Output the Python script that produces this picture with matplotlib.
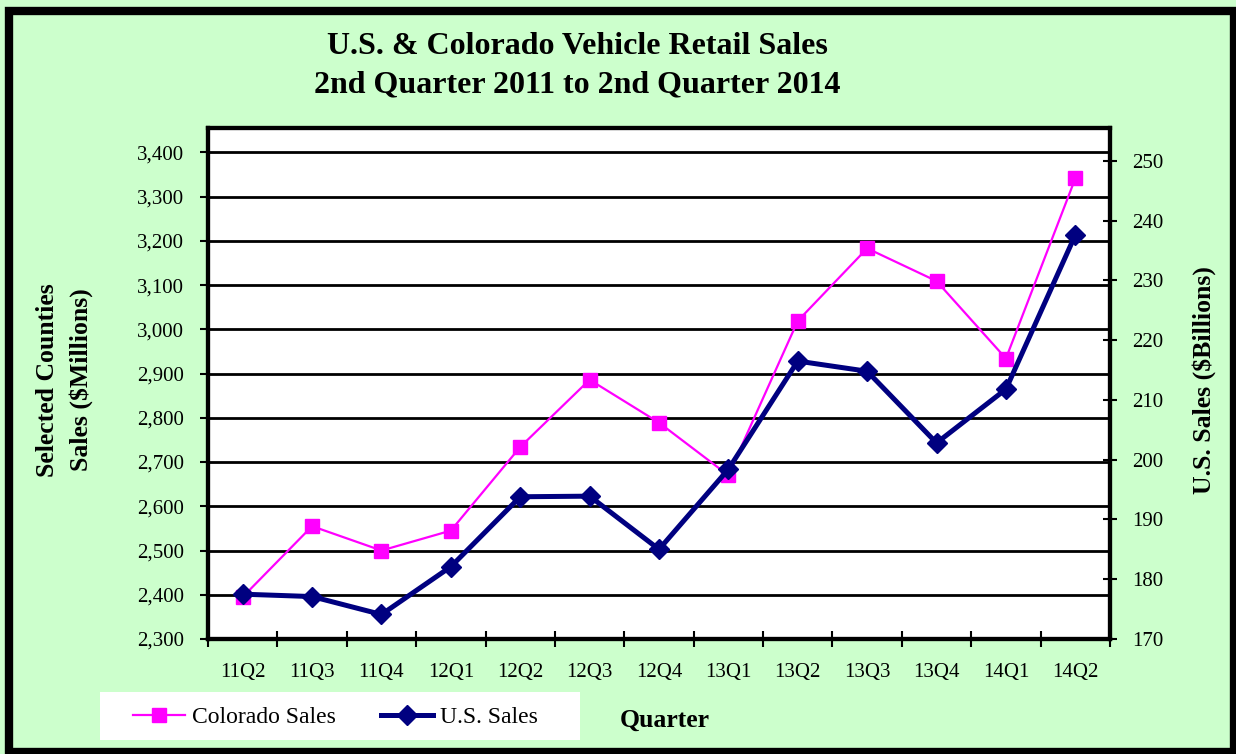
import numpy as np
import matplotlib
matplotlib.use("Agg")
import matplotlib.pyplot as plt
from matplotlib.patches import Rectangle
from matplotlib.lines import Line2D

# ==========================================
# DATA
# ==========================================
quarters = ["11Q2", "11Q3", "11Q4", "12Q1", "12Q2", "12Q3", "12Q4",
            "13Q1", "13Q2", "13Q3", "13Q4", "14Q1", "14Q2"]
colorado_sales = [2395, 2555, 2500, 2545, 2734, 2886, 2789,
                  2670, 3019, 3183, 3109, 2934, 3341]
us_sales = [177.5, 177.1, 174.1, 182.1, 193.8, 193.9, 185.0,
            198.4, 216.5, 214.8, 202.8, 211.8, 237.6]
left_ticks = list(range(2300, 3401, 100))
right_ticks = list(range(170, 251, 10))

BG_GREEN = "#CCFFCC"
MAGENTA = "#FF00FF"
NAVY = "#000080"

plt.rcParams.update({
    "font.family": ["Liberation Serif", "DejaVu Serif"],
    "text.color": "black",
})

W, H = 1236, 754
fig = plt.figure(figsize=(W / 100, H / 100), dpi=100)
fig.patch.set_facecolor(BG_GREEN)

ax = fig.add_axes([208 / W, (H - 639) / H, 902 / W, (639 - 128) / H])
ax.set_facecolor("white")
ax2 = ax.twinx()

x = np.arange(len(quarters))

# gridlines from left axis
for v in left_ticks[1:]:
    ax.axhline(v, color="black", lw=2, zorder=1)

ax.plot(x, colorado_sales, color=MAGENTA, lw=1.6, marker="s", markersize=10.5,
        markerfacecolor=MAGENTA, markeredgecolor=MAGENTA, zorder=3, clip_on=False)
ax2.plot(x, us_sales, color=NAVY, lw=3.6, marker="D", markersize=10,
         markerfacecolor=NAVY, markeredgecolor=NAVY, zorder=4, clip_on=False)

ax.set_xlim(-0.5, len(quarters) - 0.5)
ax.set_ylim(2300, 3455)
ax2.set_ylim(170, 255.5)

ax.set_yticks(left_ticks)
ax.set_yticklabels([f"{v:,}" for v in left_ticks])
ax2.set_yticks(right_ticks)
ax2.set_yticklabels([str(v) for v in right_ticks])

# category boundaries get the tick marks, labels sit in the middle
ax.set_xticks(np.arange(-0.5, len(quarters)), minor=False)
ax.set_xticklabels([])
ax.set_xticks(x, minor=True)
ax.set_xticklabels(quarters, minor=True)

ax.tick_params(axis="x", which="major", direction="inout", length=12, width=1.5)
ax.tick_params(axis="x", which="minor", length=0, pad=17.5, labelsize=15)
ax.tick_params(axis="y", direction="out", length=6, width=1.5, pad=11, labelsize=15)
ax2.tick_params(axis="y", direction="inout", length=10, width=1.5, pad=11, labelsize=15)

for a in (ax, ax2):
    for sp in a.spines.values():
        sp.set_linewidth(3)
        sp.set_color("black")

ax2.patch.set_visible(False)
ax2.set_zorder(2)
ax.set_zorder(1)

# titles and labels
fig.text(577 / W, (H - 47) / H, "U.S. & Colorado Vehicle Retail Sales",
         ha="center", va="center", fontsize=23, fontweight="bold")
fig.text(577 / W, (H - 85) / H, "2nd Quarter 2011 to 2nd Quarter 2014",
         ha="center", va="center", fontsize=23, fontweight="bold")

fig.text(48 / W, (H - 380) / H, "Selected Counties", rotation=90,
         ha="center", va="center", fontsize=18.5, fontweight="bold")
fig.text(81 / W, (H - 380) / H, "Sales ($Millions)", rotation=90,
         ha="center", va="center", fontsize=18.5, fontweight="bold")
fig.text(1204 / W, (H - 380) / H, "U.S. Sales ($Billions)", rotation=90,
         ha="center", va="center", fontsize=18.5, fontweight="bold")
fig.text(665 / W, (H - 720) / H, "Quarter", ha="center", va="center",
         fontsize=18.5, fontweight="bold")

# legend box
fig.patches.append(Rectangle((100 / W, (H - 740) / H), 480 / W, 48 / H,
                             transform=fig.transFigure, facecolor="white",
                             edgecolor="none", zorder=0))
handles = [
    Line2D([], [], color=MAGENTA, lw=1.6, marker="s", markersize=10.5),
    Line2D([], [], color=NAVY, lw=3.6, marker="D", markersize=10),
]
fig.legend(handles, ["Colorado Sales", "U.S. Sales"], loc="center left",
           bbox_to_anchor=(133 / W, (H - 717) / H), ncol=2, frameon=False,
           fontsize=17, handlelength=2.2, handletextpad=0.3,
           columnspacing=1.9, borderpad=0, borderaxespad=0)

# outer black frame
fig.patches.append(Rectangle((9 / W, 2 / H), (1234 - 9) / W, (743 - 2) / H,
                             transform=fig.transFigure, facecolor="none",
                             edgecolor="black", lw=6, zorder=10))

fig.savefig("out.png", dpi=100, facecolor=BG_GREEN)
